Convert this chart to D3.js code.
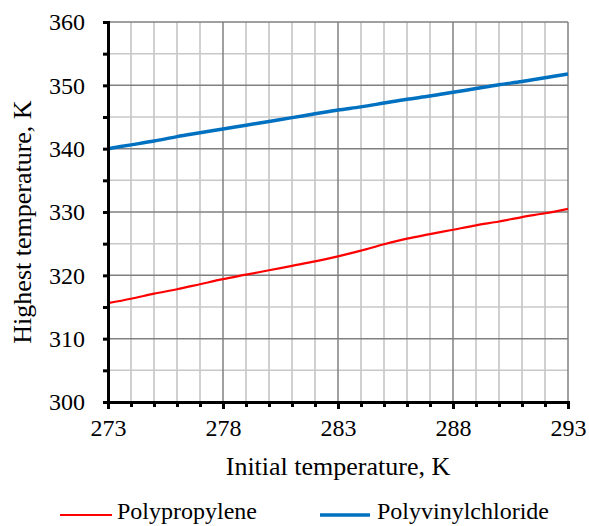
<!DOCTYPE html>
<html><head><meta charset="utf-8">
<script src="https://cdn.jsdelivr.net/npm/d3@7"></script>
<style>body{margin:0;background:#fff}svg{display:block}svg text{font-family:"Times New Roman","Liberation Serif",Tinos,"DejaVu Serif",serif !important;fill:#000}</style>
</head><body><svg id="c" width="589" height="526"></svg>
<script>
const xValues = [273,274,275,276,277,278,279,280,281,282,283,284,285,286,287,288,289,290,291,292,293];
const polypropylene = [315.6,316.3,317.1,317.8,318.6,319.4,320.1,320.8,321.5,322.2,323.0,323.9,324.9,325.8,326.5,327.2,327.9,328.5,329.2,329.8,330.5];
const polyvinylchloride = [340.0,340.6,341.2,341.9,342.5,343.1,343.7,344.3,344.9,345.5,346.1,346.6,347.2,347.8,348.3,348.9,349.5,350.1,350.6,351.2,351.8];
const xTickLabels = [273,278,283,288,293];
const yTickLabels = [300,310,320,330,340,350,360];
const seriesNames = ["Polypropylene","Polyvinylchloride"];
const seriesColors = ["#ff0000","#0070c0"];

const svg = d3.select("#c");
const L=108,R=568,T=22,B=402;
const x = d3.scaleLinear().domain([273,293]).range([L,R]);
const y = d3.scaleLinear().domain([300,360]).range([B,T]);

const g = svg.append("g");
const xMinor = d3.range(274,293).filter(v=>(v-273)%5!==0);
const yMinor = [305,315,325,335,345,355];
g.selectAll(".vx").data(xMinor).join("line").attr("x1",d=>x(d)).attr("x2",d=>x(d)).attr("y1",T).attr("y2",B)
 .attr("stroke","#c0c0c0").attr("stroke-width",1.5);
g.selectAll(".hy").data(yMinor).join("line").attr("x1",L).attr("x2",R).attr("y1",d=>y(d)).attr("y2",d=>y(d))
 .attr("stroke","#c8c8c8").attr("stroke-width",1.5);
g.selectAll(".vX").data(xTickLabels.slice(1)).join("line").attr("x1",d=>x(d)).attr("x2",d=>x(d)).attr("y1",T).attr("y2",B)
 .attr("stroke","#808080").attr("stroke-width",1.5);
g.selectAll(".hY").data(yTickLabels.slice(1)).join("line").attr("x1",L).attr("x2",R).attr("y1",d=>y(d)).attr("y2",d=>y(d))
 .attr("stroke","#808080").attr("stroke-width",1.5);

const line = d3.line().x((d,i)=>x(xValues[i])).y(d=>y(d)).curve(d3.curveMonotoneX);
svg.append("path").datum(polypropylene).attr("d",line).attr("fill","none").attr("stroke",seriesColors[0]).attr("stroke-width",2.2);
svg.append("path").datum(polyvinylchloride).attr("d",line).attr("fill","none").attr("stroke",seriesColors[1]).attr("stroke-width",3.5);

const yAxis = d3.axisLeft(y).tickValues(d3.range(300,361,5)).tickSize(5).tickFormat(d=>d%10===0?d:"");
const ya = svg.append("g").attr("transform",`translate(${L},0)`).call(yAxis).attr("font-family",null);
ya.select(".domain").attr("stroke","#000").attr("stroke-width",3);
ya.selectAll(".tick line").attr("stroke","#000").attr("stroke-width",3);
ya.selectAll(".tick text").attr("x",-23).attr("font-size",24);

const xAxis = d3.axisBottom(x).tickValues(d3.range(273,294,1)).tickSize(5).tickFormat(d=>(d-273)%5===0?d:"");
const xa = svg.append("g").attr("transform",`translate(0,${B})`).call(xAxis).attr("font-family",null);
xa.select(".domain").attr("stroke","#000").attr("stroke-width",3);
xa.selectAll(".tick line").attr("stroke","#000").attr("stroke-width",3).attr("y2",d=>(d-273)%5===0?7:5);
xa.selectAll(".tick text").attr("y",17).attr("font-size",24);

svg.append("text").attr("x",338).attr("y",475).attr("text-anchor","middle").attr("font-size",26).text("Initial temperature, K");
svg.append("text").attr("transform","translate(31,222) rotate(-90)").attr("text-anchor","middle").attr("font-size",26).text("Highest temperature, K");

const leg = [{x1:60,x2:112,tx:117},{x1:320,x2:370,tx:377}];
leg.forEach((p,i)=>{
  svg.append("line").attr("x1",p.x1).attr("x2",p.x2).attr("y1",515).attr("y2",515).attr("stroke",seriesColors[i]).attr("stroke-width",i?3.5:2.2);
  svg.append("text").attr("x",p.tx).attr("y",519).attr("font-size",24).text(seriesNames[i]);
});
</script></body></html>
